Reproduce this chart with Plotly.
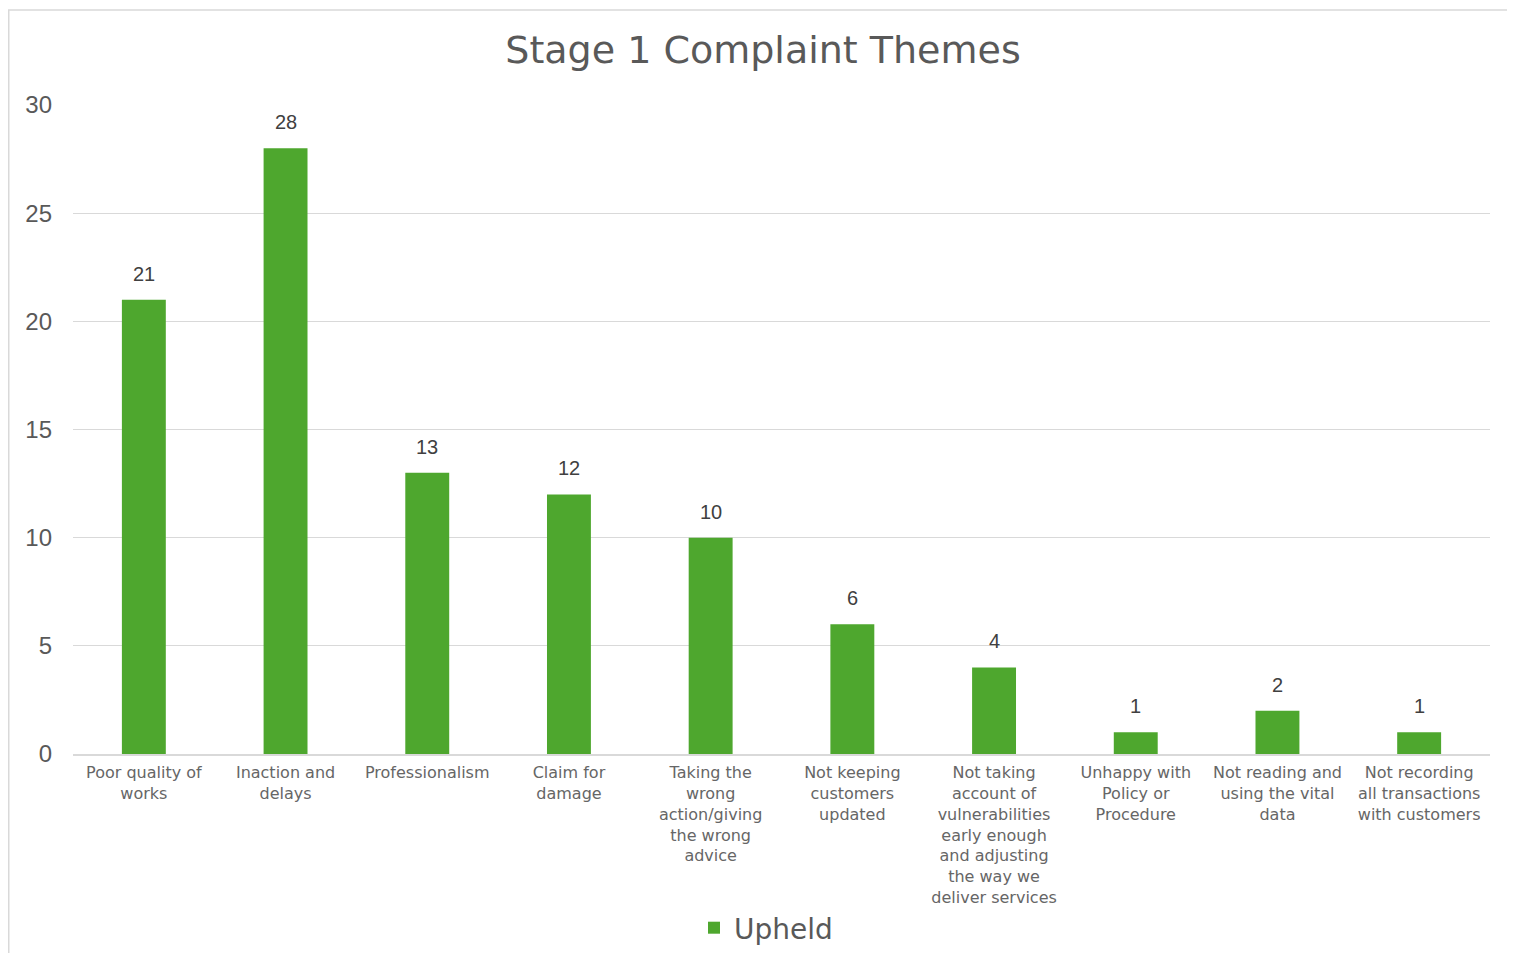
import plotly.graph_objects as go

categories = [
    "Poor quality of<br>works",
    "Inaction and<br>delays",
    "Professionalism",
    "Claim for<br>damage",
    "Taking the<br>wrong<br>action/giving<br>the wrong<br>advice",
    "Not keeping<br>customers<br>updated",
    "Not taking<br>account of<br>vulnerabilities<br>early enough<br>and adjusting<br>the way we<br>deliver services",
    "Unhappy with<br>Policy or<br>Procedure",
    "Not reading and<br>using the vital<br>data",
    "Not recording<br>all transactions<br>with customers",
]
upheld = [21, 28, 13, 12, 10, 6, 4, 1, 2, 1]
y_ticks = [0, 5, 10, 15, 20, 25, 30]

GREEN = "#4EA72E"
TEXT_FONT = "DejaVu Sans, Open Sans, sans-serif"
NUM_FONT = "Liberation Sans, Arial, sans-serif"

# page offset of the figure div (body margin) is 8px
OFF = 8
W, H = 1507, 945
L, R, T, B = 73 - OFF, 1507 - (1490 - OFF), 105 - OFF, 945 - (754 - OFF)
pw = W - L - R
ph = H - T - B
y0px = 754 - OFF  # y pixel of value 0 in figure coords


def px_x(sx):
    return (sx - OFF - L) / pw


def px_y(sy):
    return (y0px - (sy - OFF)) / ph


fig = go.Figure()
fig.add_trace(go.Bar(
    x=categories, y=upheld, name="Upheld",
    marker=dict(color=GREEN, line=dict(width=0)),
    width=0.31,
))

for c, v in zip(categories, upheld):
    fig.add_annotation(x=c, y=v, text=str(v), showarrow=False,
                       yanchor="bottom", yshift=13,
                       font=dict(family=NUM_FONT, size=20, color="#404040"))

# outer chart border
fig.add_shape(type="rect", xref="paper", yref="paper",
              x0=(0.75 - L) / pw, x1=px_x(1560),
              y0=px_y(10), y1=px_y(1100),
              line=dict(color="#D9D9D9", width=1.5), fillcolor="rgba(0,0,0,0)",
              layer="below")

fig.update_layout(
    width=W, height=H,
    margin=dict(l=L, r=R, t=T, b=B, autoexpand=False),
    paper_bgcolor="white", plot_bgcolor="white",
    title=dict(text="Stage 1 Complaint Themes", x=(763 - OFF) / W, xref="container",
               xanchor="center", y=1 - (50 - OFF) / H, yref="container", yanchor="middle",
               font=dict(family=TEXT_FONT, size=38, color="#595959")),
    showlegend=True,
    legend=dict(orientation="h", x=(766 - OFF) / W, xref="container", xanchor="center",
                y=1 - (928 - OFF) / H, yref="container", yanchor="middle",
                font=dict(family=TEXT_FONT, size=28, color="#595959"),
                itemwidth=30),
    bargap=0.69,
    xaxis=dict(showgrid=False, showline=True, linecolor="#D9D9D9", linewidth=2,
               ticks="", tickfont=dict(family=TEXT_FONT, size=16, color="#666666"),
               tickangle=0, ticklabelstandoff=3, automargin=False),
    yaxis=dict(range=[0, 30], tickvals=y_ticks, showgrid=True, gridcolor="#D9D9D9",
               gridwidth=1.3, zeroline=False, showline=False,
               tickfont=dict(family=NUM_FONT, size=24, color="#595959"),
               ticklabelstandoff=20, automargin=False),
)

fig.write_html("out.html")
